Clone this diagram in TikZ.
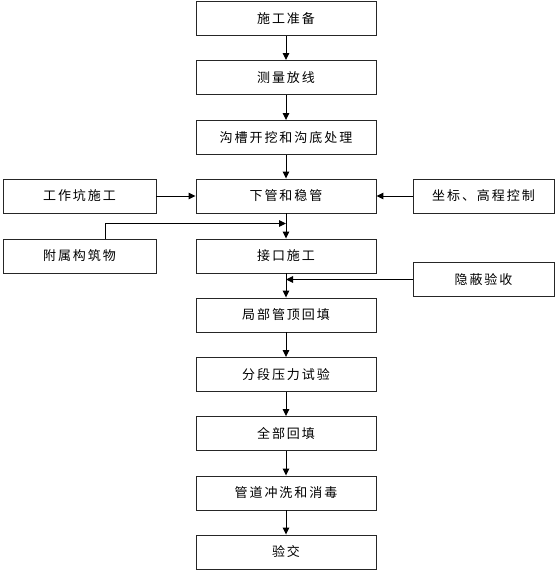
\documentclass[tikz,border=0pt]{standalone}
\usepackage{fontspec}
\setmainfont{Noto Sans CJK SC}
\usetikzlibrary{arrows.meta}
\begin{document}
\begin{tikzpicture}[x=1pt,y=-1pt,
  box/.style={draw=black!85,line width=0.9pt,minimum width=180pt,minimum height=34pt,inner sep=0pt,font=\fontsize{13pt}{15pt}\selectfont\addfontfeatures{LetterSpace=15}},
  sidebox/.style={box,minimum width=153pt},
  rbox/.style={box,minimum width=141pt},
  arr/.style={line width=1pt,-{Triangle[length=7pt,width=6.5pt]}}]
\useasboundingbox (0,0) rectangle (558,572);
\node[box] (b1) at (286,18.5) {施工准备};
\node[box] (b2) at (286,77.5) {测量放线};
\node[box] (b3) at (286,137.5) {沟槽开挖和沟底处理};
\node[box] (b4) at (286,196) {下管和稳管};
\node[box] (b5) at (286,256) {接口施工};
\node[box] (b6) at (286,315) {局部管顶回填};
\node[box] (b7) at (286,374.5) {分段压力试验};
\node[box] (b8) at (286,433.5) {全部回填};
\node[box] (b9) at (286,493) {管道冲洗和消毒};
\node[box] (b10) at (286,552) {验交};
\node[sidebox] (l1) at (79.5,196) {工作坑施工};
\node[sidebox] (l2) at (79.5,256) {附属构筑物};
\node[rbox] (r1) at (483.5,196) {坐标、高程控制};
\node[rbox] (r2) at (483.5,279.5) {隐蔽验收};
\draw[arr] (b1) -- (b2);
\draw[arr] (b2) -- (b3);
\draw[arr] (b3) -- (b4);
\draw[arr] (b4) -- (b5);
\draw[arr] (b5) -- (b6);
\draw[arr] (b6) -- (b7);
\draw[arr] (b7) -- (b8);
\draw[arr] (b8) -- (b9);
\draw[arr] (b9) -- (b10);
\draw[arr] (l1) -- (b4);
\draw[arr] (r1) -- (b4);
\coordinate (j1) at (286,223.5);
\coordinate (j2) at (286,279.5);
\draw[arr] (l2.north -| 105,0) |- (j1);
\draw[arr] (r2) -- (j2);
\end{tikzpicture}
\end{document}
